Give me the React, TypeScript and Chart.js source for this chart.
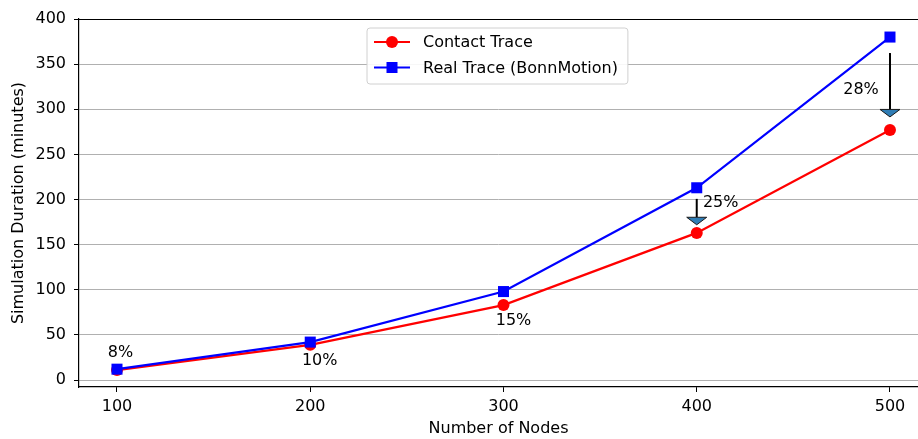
import { useEffect, useRef } from 'react';
import { Chart, registerables } from 'chart.js';

Chart.register(...registerables);

const nodeCounts = [100, 200, 300, 400, 500];
const contactTrace = [11, 39, 83, 163, 277];
const realTrace = [12, 42, 98, 213, 380];
const xTicks = [100, 200, 300, 400, 500];
const yTicks = [0, 50, 100, 150, 200, 250, 300, 350, 400];

const pctLabels = ['8%', '10%', '15%', '25%', '28%'];
const pctLabelX = [101.8, 204.9, 305.2, 412.4, 485];
const pctLabelY = [30.2, 20.8, 65.6, 196.2, 321.3];

const arrowX = [400, 500];
const arrowFrom = [200.7, 362.3];
const arrowTo = [172, 291.5];

const legendLabels = ['Contact Trace', 'Real Trace (BonnMotion)'];
const legendColors = ['#ff0000', '#0000ff'];
const legendMarkers = ['circle', 'rect'];

const FONT = "'DejaVu Sans', sans-serif";
const FS = 16;

const overlayPlugin = {
  id: 'overlay',
  afterDraw(chart: any) {
    const { ctx, chartArea, scales } = chart;
    const xs = scales.x;
    const ys = scales.y;
    ctx.save();
    // top spine
    ctx.strokeStyle = '#000';
    ctx.lineWidth = 1.2;
    ctx.beginPath();
    ctx.moveTo(chartArea.left, chartArea.top + 0.5);
    ctx.lineTo(chartArea.right, chartArea.top + 0.5);
    ctx.stroke();

    // arrows
    for (let i = 0; i < arrowX.length; i++) {
      const px = xs.getPixelForValue(arrowX[i]);
      const y0 = ys.getPixelForValue(arrowFrom[i]);
      const y1 = ys.getPixelForValue(arrowTo[i]);
      const headH = 7.5;
      const headW = 10;
      ctx.strokeStyle = '#000';
      ctx.lineWidth = 2;
      ctx.beginPath();
      ctx.moveTo(px, y0);
      ctx.lineTo(px, y1 - headH);
      ctx.stroke();
      ctx.beginPath();
      ctx.moveTo(px - headW, y1 - headH);
      ctx.lineTo(px + headW, y1 - headH);
      ctx.lineTo(px, y1);
      ctx.closePath();
      ctx.fillStyle = '#2f7db5';
      ctx.fill();
      ctx.lineWidth = 1;
      ctx.strokeStyle = '#1a1a1a';
      ctx.stroke();
    }

    // percentage labels
    ctx.fillStyle = '#000';
    ctx.font = `${FS}px ${FONT}`;
    ctx.textAlign = 'center';
    ctx.textBaseline = 'middle';
    for (let i = 0; i < pctLabels.length; i++) {
      ctx.fillText(pctLabels[i], xs.getPixelForValue(pctLabelX[i]), ys.getPixelForValue(pctLabelY[i]));
    }

    // legend
    const bx = chartArea.left + 288;
    const by = chartArea.top + 9;
    let maxW = 0;
    for (const l of legendLabels) maxW = Math.max(maxW, ctx.measureText(l).width);
    const bw = 56 + maxW + 10;
    const bh = 56;
    const r = 3;
    ctx.beginPath();
    ctx.moveTo(bx + r, by);
    ctx.lineTo(bx + bw - r, by);
    ctx.arcTo(bx + bw, by, bx + bw, by + r, r);
    ctx.lineTo(bx + bw, by + bh - r);
    ctx.arcTo(bx + bw, by + bh, bx + bw - r, by + bh, r);
    ctx.lineTo(bx + r, by + bh);
    ctx.arcTo(bx, by + bh, bx, by + bh - r, r);
    ctx.lineTo(bx, by + r);
    ctx.arcTo(bx, by, bx + r, by, r);
    ctx.closePath();
    ctx.fillStyle = 'rgba(255,255,255,0.9)';
    ctx.fill();
    ctx.strokeStyle = '#d0d0d0';
    ctx.lineWidth = 1;
    ctx.stroke();
    ctx.textAlign = 'left';
    for (let i = 0; i < legendLabels.length; i++) {
      const cy = by + 14 + i * 25.5;
      ctx.strokeStyle = legendColors[i];
      ctx.lineWidth = 2.2;
      ctx.beginPath();
      ctx.moveTo(bx + 7, cy);
      ctx.lineTo(bx + 43, cy);
      ctx.stroke();
      ctx.fillStyle = legendColors[i];
      if (legendMarkers[i] === 'circle') {
        ctx.beginPath();
        ctx.arc(bx + 25, cy, 6, 0, Math.PI * 2);
        ctx.fill();
      } else {
        ctx.fillRect(bx + 19.5, cy - 5.5, 11, 11);
      }
      ctx.fillStyle = '#000';
      ctx.fillText(legendLabels[i], bx + 56, cy + 1);
    }
    ctx.restore();
  },
};

export default function App() {
  const ref = useRef<HTMLCanvasElement>(null);
  useEffect(() => {
    if (!ref.current) return;
    const chart = new Chart(ref.current, {
      type: 'line',
      data: {
        datasets: [
          {
            label: legendLabels[1],
            data: nodeCounts.map((x, i) => ({ x, y: realTrace[i] })),
            borderColor: '#0000ff',
            backgroundColor: '#0000ff',
            borderWidth: 2.2,
            pointStyle: 'rect',
            pointRadius: 7.8,
            pointBorderWidth: 0,
          },
          {
            label: legendLabels[0],
            data: nodeCounts.map((x, i) => ({ x, y: contactTrace[i] })),
            borderColor: '#ff0000',
            backgroundColor: '#ff0000',
            borderWidth: 2.2,
            pointStyle: 'circle',
            pointRadius: 6,
            pointBorderWidth: 0,
          },
        ],
      },
      options: {
        responsive: false,
        animation: false,
        layout: { autoPadding: false, padding: { top: 19, right: 0, left: 0, bottom: 0 } },
        plugins: { legend: { display: false }, tooltip: { enabled: false } },
        scales: {
          x: {
            type: 'linear',
            min: 80.34,
            max: 514.5,
            afterBuildTicks: (s: any) => {
              s.ticks = xTicks.map((v) => ({ value: v }));
            },
            afterFit: (s: any) => {
              s.height = 52;
              s.paddingLeft = 0;
              s.paddingRight = 0;
            },
            grid: { display: true, drawOnChartArea: false, tickColor: '#000', tickLength: 5 },
            border: { display: true, color: '#000', width: 1.2 },
            ticks: { color: '#000', font: { family: FONT, size: FS }, padding: 5 },
            title: {
              display: true,
              text: 'Number of Nodes',
              color: '#000',
              font: { family: FONT, size: FS },
              padding: { top: 0, bottom: 1 },
            },
          },
          y: {
            type: 'linear',
            min: -7.75,
            max: 400,
            afterBuildTicks: (s: any) => {
              s.ticks = yTicks.map((v) => ({ value: v }));
            },
            afterFit: (s: any) => {
              s.width = 79;
              s.paddingTop = 0;
              s.paddingBottom = 0;
            },
            grid: { color: '#b0b0b0', lineWidth: 1, tickColor: '#000', tickLength: 5 },
            border: { display: true, color: '#000', width: 1.2 },
            ticks: { color: '#000', font: { family: FONT, size: FS }, padding: 8 },
            title: {
              display: true,
              text: 'Simulation Duration (minutes)',
              color: '#000',
              font: { family: FONT, size: FS },
              padding: { top: 9, bottom: 0 },
            },
          },
        },
      },
      plugins: [overlayPlugin],
    });
    return () => chart.destroy();
  }, []);
  return (
    <div style={{ position: 'fixed', left: 0, top: 0, width: 918, height: 439, background: '#fff' }}>
      <canvas ref={ref} width={918} height={439} />
    </div>
  );
}
